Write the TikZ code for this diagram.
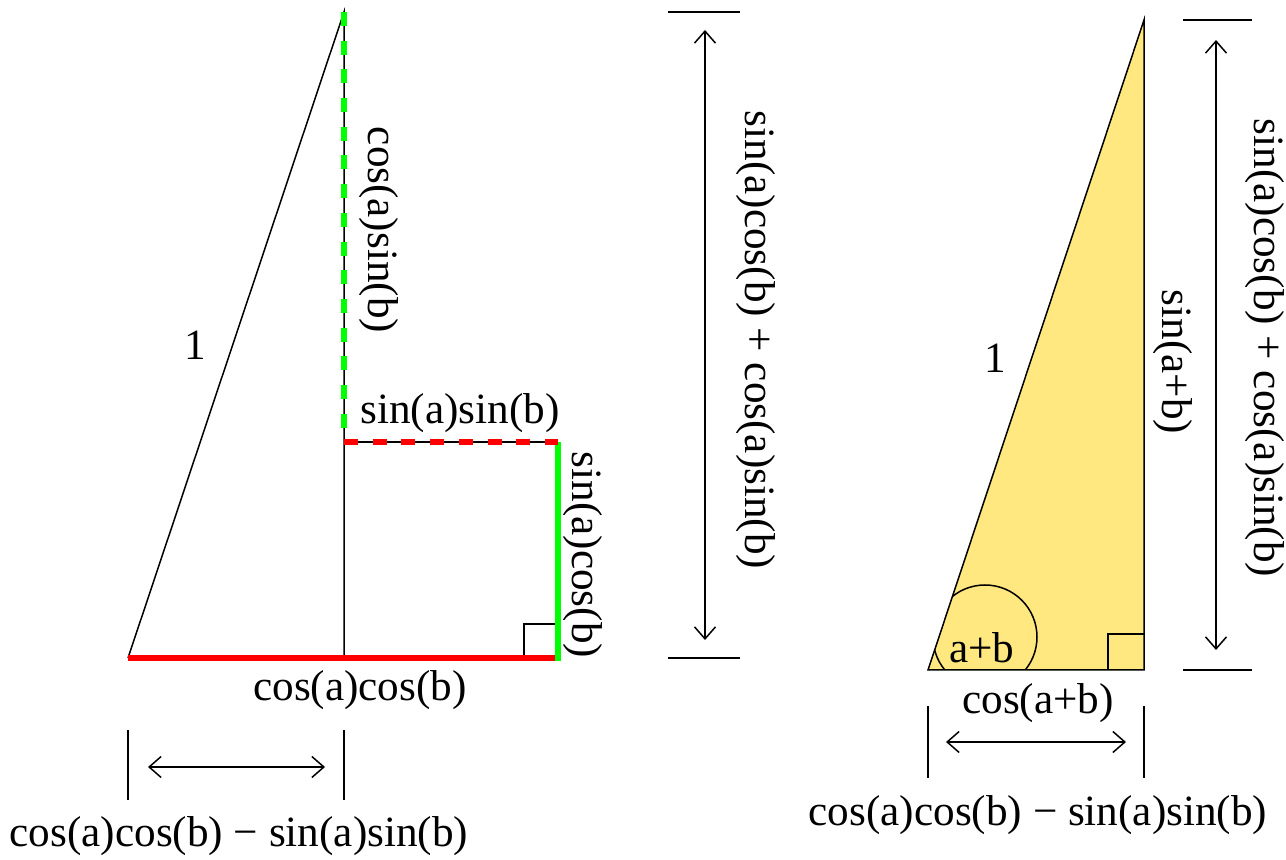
\documentclass[tikz,border=0pt]{standalone}
\usepackage{fontspec}
\setmainfont{Liberation Serif}
\usetikzlibrary{arrows.meta}
\definecolor{fillyellow}{RGB}{255,232,128}
\definecolor{pgreen}{RGB}{0,255,0}
\definecolor{pred}{RGB}{255,0,0}
\begin{document}
\begin{tikzpicture}[x=0.5pt,y=-0.5pt,
  thinline/.style={line width=0.75pt,black},
  thickred/.style={line width=3pt,pred},
  thickgreen/.style={line width=3pt,pgreen},
  dashgreen/.style={line width=3pt,pgreen,dash pattern=on 7pt off 7.35pt},
  dashred/.style={line width=3pt,pred,dash pattern=on 7pt off 7.35pt},
  dimarrow/.style={line width=0.75pt,{Straight Barb[length=6pt,width=10.5pt]}-{Straight Barb[length=6pt,width=10.5pt]}},
  lbl/.style={inner sep=0pt,font=\fontsize{21.6}{26}\selectfont},
  rlbl/.style={lbl,rotate=-90}]
\useasboundingbox (0,0) rectangle (1286,860);
% ---------- left figure ----------
\coordinate (A) at (128,658);
\coordinate (T) at (344,12);
\coordinate (B) at (344,658);
\coordinate (M) at (344,442);
\coordinate (R) at (558,658);
\coordinate (Q) at (558,442);
\draw[thinline] (A) -- (T) -- (B);
\draw[thinline] (M) -- (Q);
\draw[thinline] (524,658) |- (558,624);
\draw[thickred] (A) -- (R);
\draw[thickgreen] ([yshift=-1.5pt]R) -- (Q);
\draw[dashred] (M) -- (Q);
\draw[dashgreen] (T) -- (M);
\node[lbl] (one1) at (195,345) {1};
\node[rlbl] (casb) at (379,230) {cos(a)sin(b)};
\node[lbl] (sasb) at (460,413) {sin(a)sin(b)};
\node[rlbl] (sacb) at (583,555) {sin(a)cos(b)};
\node[lbl] (cacb) at (360,690) {cos(a)cos(b)};
% bottom dimension left
\coordinate (t1a) at (128,730); \coordinate (t1b) at (128,800);
\coordinate (t2a) at (344,730); \coordinate (t2b) at (344,800);
\draw[thinline] (t1a) -- (t1b);
\draw[thinline] (t2a) -- (t2b);
\coordinate (d1a) at (148,767); \coordinate (d1b) at (325,767);
\draw[dimarrow] (d1a) -- (d1b);
\node[lbl] (diffL) at (239,836) {cos(a)cos(b) − sin(a)sin(b)};
% vertical dimension left
\coordinate (h1a) at (668,12); \coordinate (h1b) at (740,12);
\coordinate (h2a) at (668,658); \coordinate (h2b) at (740,658);
\draw[thinline] (h1a) -- (h1b);
\draw[thinline] (h2a) -- (h2b);
\coordinate (v1a) at (705,30); \coordinate (v1b) at (705,640);
\draw[dimarrow] (v1a) -- (v1b);
\node[rlbl] (sumL) at (756,340) {sin(a)cos(b) + cos(a)sin(b)};
% ---------- right figure ----------
\coordinate (P) at (928,670);
\coordinate (U) at (1144,20);
\coordinate (V) at (1144,670);
\fill[fillyellow] (P) -- (U) -- (V) -- cycle;
\begin{scope}
\clip (P) -- (U) -- (V) -- cycle;
\draw[thinline] (985,637) circle[radius=52];
\end{scope}
\draw[thinline] (1108,670) |- (1144,634);
\draw[thinline] (P) -- (U) -- (V) -- cycle;
\node[lbl] (one2) at (995,358) {1};
\node[rlbl] (sab) at (1173,362) {sin(a+b)};
\node[lbl] (ab) at (982,648) {a+b};
\node[lbl] (cab) at (1038,703) {cos(a+b)};
% bottom dimension right
\coordinate (t3a) at (928,706); \coordinate (t3b) at (928,778);
\coordinate (t4a) at (1144,706); \coordinate (t4b) at (1144,778);
\draw[thinline] (t3a) -- (t3b);
\draw[thinline] (t4a) -- (t4b);
\coordinate (d2a) at (946,742); \coordinate (d2b) at (1126,742);
\draw[dimarrow] (d2a) -- (d2b);
\node[lbl] (diffR) at (1038,815) {cos(a)cos(b) − sin(a)sin(b)};
% vertical dimension right
\coordinate (h3a) at (1183,20); \coordinate (h3b) at (1252,20);
\coordinate (h4a) at (1183,670); \coordinate (h4b) at (1252,670);
\draw[thinline] (h3a) -- (h3b);
\draw[thinline] (h4a) -- (h4b);
\coordinate (v2a) at (1216,40); \coordinate (v2b) at (1216,650);
\draw[dimarrow] (v2a) -- (v2b);
\node[rlbl] (sumR) at (1265,348) {sin(a)cos(b) + cos(a)sin(b)};
\end{tikzpicture}
\end{document}
